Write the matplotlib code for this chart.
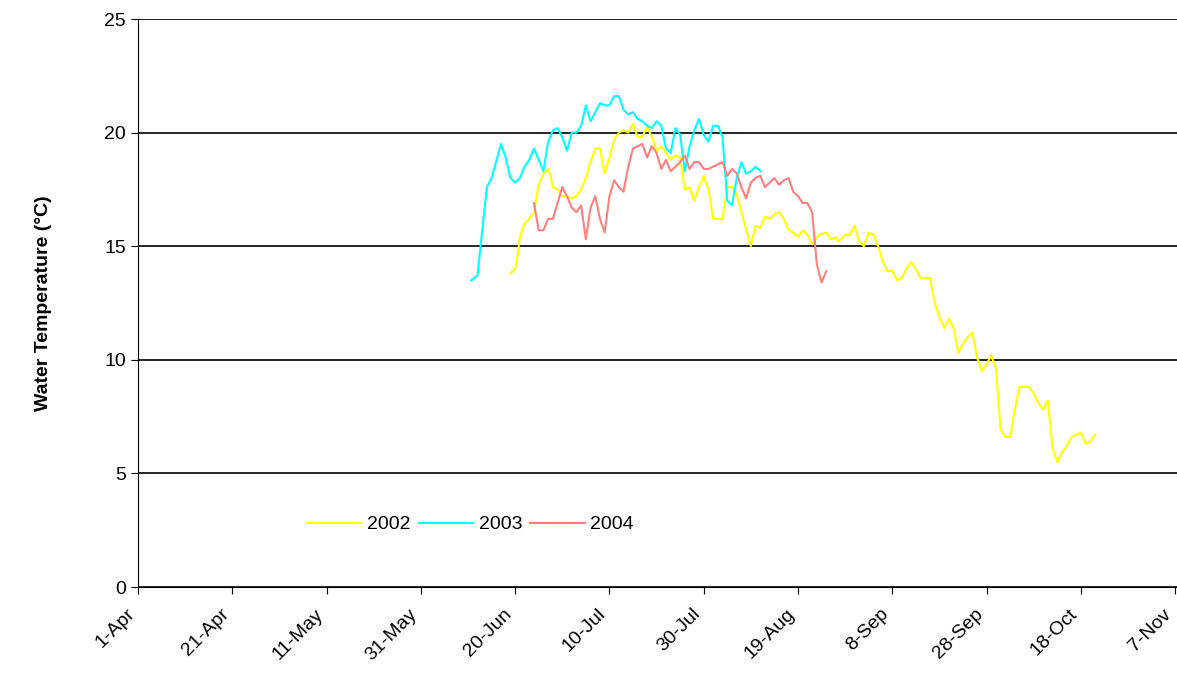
import matplotlib
matplotlib.use("Agg")
import matplotlib.pyplot as plt

tick_labels = ["1-Apr","21-Apr","11-May","31-May","20-Jun","10-Jul","30-Jul","19-Aug","8-Sep","28-Sep","18-Oct","7-Nov"]
tick_days = [0,20,40,60,80,100,120,140,160,180,200,220]

d2003 = [70.7,72,74,75,77,78,79,80,81,82,83,84,85,86,87,88,89,90,91,92,93,94,95,96,97,98,99,100,101,102,103,104,105,106,107,108,109,110,111,112,113,114,115,116,117,118,119,120,121,122,123,124,125,126,127,128,129,130,131,132]
t2003 = [13.5,13.7,17.6,18.0,19.5,18.9,18.0,17.8,18.0,18.5,18.8,19.3,18.8,18.3,19.6,20.1,20.2,19.8,19.2,20.0,20.0,20.3,21.2,20.5,20.9,21.3,21.2,21.2,21.6,21.6,21.0,20.8,20.9,20.6,20.5,20.3,20.2,20.5,20.3,19.3,19.1,20.2,19.9,18.3,19.4,20.1,20.6,19.9,19.6,20.3,20.3,19.8,17.0,16.8,18.0,18.7,18.2,18.3,18.5,18.3]

d2002 = [79,80,80.6,81,82,83,84,85,86,87,87.5,88,89,90,91,92,93,94,95,96,97,98,99,100,101,102,103,104,105,106,107,108,109,110,111,112,113,114,115,116,117,118,119,120,121,122,123,124,125,126,127,128,130,131,132,133,134,135,136,137,138,139,140,141,142,143,144.5,146,147,148,148.5,150,151,152,153,154,155,156,157,158,159,160,161,162,163,164,165,166,167,168,169,170,171,172,173,174,175,176,177,178,179,180,181,182,183,184,185,186,187,188,189,190,191,192,193,194,195,196,197,198,200,201,202,203]
t2002 = [13.8,14.0,14.7,15.4,16.0,16.2,16.5,17.7,18.2,18.4,18.1,17.6,17.5,17.2,17.2,17.1,17.2,17.5,18.0,18.7,19.3,19.3,18.2,18.9,19.7,20.0,20.1,20.0,20.4,19.8,19.8,20.3,19.8,19.2,19.4,19.1,18.8,19.0,18.9,17.5,17.6,17.0,17.6,18.1,17.5,16.2,16.2,16.2,17.6,17.6,17.3,16.5,15.0,15.9,15.8,16.3,16.2,16.4,16.5,16.2,15.7,15.6,15.4,15.7,15.5,15.1,15.5,15.6,15.3,15.4,15.2,15.5,15.5,15.9,15.2,15.0,15.6,15.5,15.0,14.3,13.9,13.9,13.5,13.6,14.0,14.3,14.0,13.6,13.6,13.6,12.5,11.9,11.4,11.8,11.4,10.3,10.7,11.0,11.2,10.1,9.5,9.8,10.2,9.6,6.9,6.6,6.6,7.8,8.8,8.8,8.8,8.5,8.1,7.8,8.2,6.1,5.5,5.9,6.2,6.6,6.8,6.3,6.4,6.7]

d2004 = [84,85,86,87,88,89,90,91,92,93,94,95,96,97,98,99,100,101,102,103,104,105,106,107,108,109,110,111,112,113,114,115,116,117,118,119,120,121,122,123,124,125,126,127,128,129,130,131,132,133,134,135,136,137,138,139,140,141,142,143,144,145,146]
t2004 = [16.9,15.7,15.7,16.2,16.2,16.9,17.6,17.2,16.7,16.5,16.8,15.3,16.7,17.2,16.2,15.6,17.2,17.9,17.6,17.4,18.5,19.3,19.4,19.5,18.9,19.4,19.1,18.4,18.8,18.3,18.5,18.7,19.0,18.4,18.7,18.7,18.4,18.4,18.5,18.6,18.7,18.1,18.4,18.2,17.6,17.1,17.8,18.0,18.1,17.6,17.8,18.0,17.7,17.9,18.0,17.4,17.2,16.9,16.9,16.5,14.2,13.4,13.9]

plt.rcParams['font.family'] = ['Liberation Sans', 'DejaVu Sans']
fig = plt.figure(figsize=(11.77, 6.87), dpi=100)
ax = fig.add_axes([138/1177, 1-587/687, (1177-138)/1177, (587-19)/687])
ax.plot(d2002, t2002, color='#ffff00', lw=1.5, label='2002')
ax.plot(d2003, t2003, color='#00ffff', lw=1.5, label='2003')
ax.plot(d2004, t2004, color='#ff7f7f', lw=1.5, label='2004')
ax.set_xlim(0, 220.4)
ax.set_ylim(0, 25)
ax.set_yticks([0,5,10,15,20,25])
ax.yaxis.grid(True, color='black', lw=1.2)
ax.set_axisbelow(True)
ax.set_xticks(tick_days)
ax.set_xticklabels(tick_labels, rotation=45, ha='right', va='bottom', rotation_mode='anchor', fontsize=14)
ax.tick_params(axis='y', labelsize=14, direction='out', length=5)
ax.tick_params(axis='x', direction='out', length=5, pad=17)
for s in ['top','right']:
    ax.spines[s].set_visible(False)
ax.set_ylabel('Water Temperature (°C)', fontsize=14, fontweight='bold', labelpad=38)
ax.legend(loc='center', bbox_to_anchor=(0.32, 0.11), ncol=3, frameon=False, fontsize=14,
          handlelength=2.8, columnspacing=0.4, handletextpad=0.3)
fig.savefig('out.png', dpi=100)
